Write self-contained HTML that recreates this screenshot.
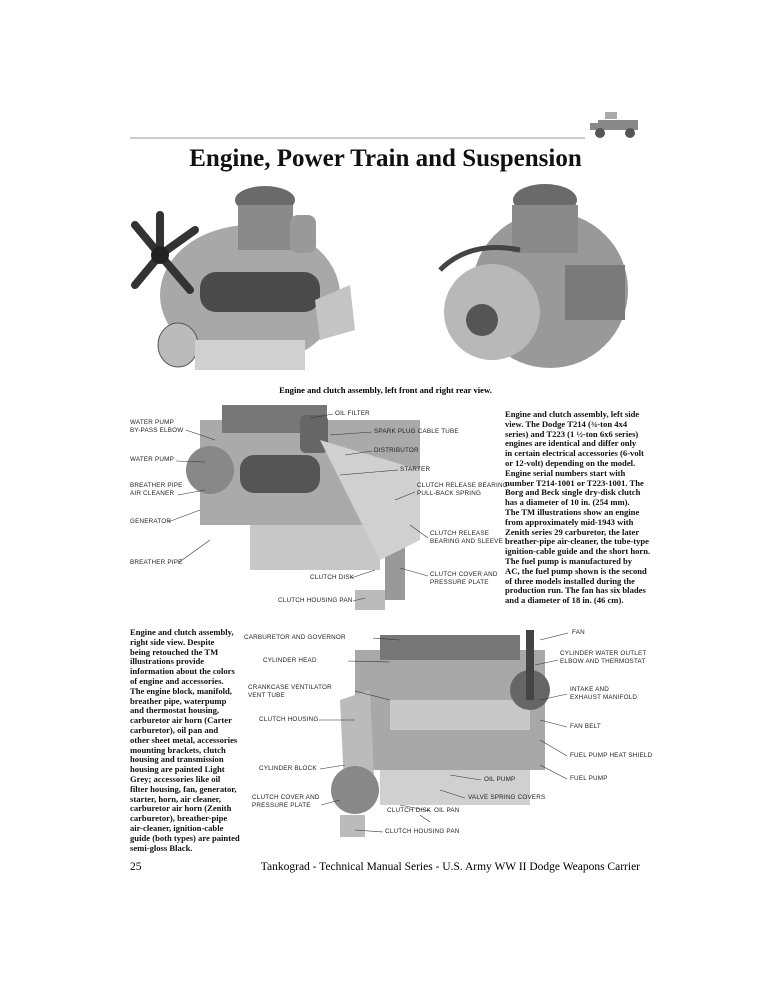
<!DOCTYPE html>
<html><head><meta charset="utf-8"><style>
body{margin:0;background:#fff;}
#p{position:relative;width:771px;height:1000px;overflow:hidden;background:#fff;font-family:"Liberation Serif",serif;}
.t{position:absolute;white-space:nowrap;}
.l{position:absolute;font-family:"Liberation Sans",sans-serif;font-size:6.3px;color:#222;white-space:nowrap;line-height:8px;letter-spacing:0.2px}
.b{position:absolute;font-weight:bold;font-size:8.6px;line-height:9.8px;color:#111;white-space:nowrap;}
svg{position:absolute;left:0;top:0;}
</style></head><body><div id="p">
<svg width="771" height="1000">
<line x1="130" y1="138" x2="585" y2="138" stroke="#999" stroke-width="1"/>
<g fill="#888"><rect x="598" y="120" width="40" height="10"/><rect x="590" y="123" width="12" height="7"/><circle cx="600" cy="133" r="5" fill="#555"/><circle cx="630" cy="133" r="5" fill="#555"/><rect x="605" y="112" width="12" height="7" fill="#aaa"/></g>
<!-- top left engine -->
<g>
<ellipse cx="250" cy="295" rx="90" ry="70" fill="#a8a8a8"/>
<rect x="200" y="272" width="120" height="40" rx="16" fill="#4a4a4a"/>
<ellipse cx="265" cy="200" rx="30" ry="14" fill="#6a6a6a"/>
<rect x="238" y="205" width="55" height="45" fill="#8a8a8a"/>
<g stroke="#333" stroke-width="8" stroke-linecap="round"><line x1="160" y1="255" x2="135" y2="225"/><line x1="160" y1="255" x2="195" y2="230"/><line x1="160" y1="255" x2="135" y2="285"/><line x1="160" y1="255" x2="190" y2="290"/><line x1="160" y1="255" x2="160" y2="215"/></g>
<circle cx="160" cy="255" r="9" fill="#222"/>
<ellipse cx="178" cy="345" rx="20" ry="22" fill="#bbb" stroke="#555"/>
<rect x="290" y="215" width="26" height="38" rx="8" fill="#999"/>
<path d="M315 300 L350 285 L355 330 L320 340Z" fill="#c4c4c4"/>
<rect x="195" y="340" width="110" height="30" fill="#d0d0d0"/>
</g>
<!-- top right engine -->
<g>
<ellipse cx="550" cy="290" rx="78" ry="78" fill="#999"/>
<ellipse cx="545" cy="200" rx="32" ry="16" fill="#6a6a6a"/>
<rect x="512" y="205" width="66" height="48" fill="#8a8a8a"/>
<circle cx="492" cy="312" r="48" fill="#b8b8b8"/>
<circle cx="482" cy="320" r="16" fill="#555"/>
<rect x="565" y="265" width="60" height="55" fill="#7a7a7a"/>
<path d="M440 270 Q470 240 520 250" stroke="#444" stroke-width="5" fill="none"/>
</g>
<!-- mid engine -->
<g>
<rect x="200" y="420" width="220" height="105" fill="#aaa"/>
<rect x="222" y="405" width="105" height="28" fill="#777"/>
<rect x="240" y="455" width="80" height="38" rx="14" fill="#555"/>
<rect x="300" y="415" width="28" height="38" rx="6" fill="#666"/>
<circle cx="210" cy="470" r="24" fill="#888"/>
<rect x="250" y="525" width="130" height="45" fill="#c8c8c8"/>
<rect x="385" y="540" width="20" height="60" fill="#999"/>
<rect x="355" y="590" width="30" height="20" fill="#bbb"/>
<path d="M320 440 L420 470 L420 540 L380 560Z" fill="#d0d0d0"/>
</g>
<!-- bottom engine -->
<g>
<rect x="355" y="650" width="190" height="120" fill="#a8a8a8"/>
<rect x="380" y="635" width="140" height="25" fill="#777"/>
<rect x="390" y="700" width="140" height="30" fill="#c8c8c8"/>
<circle cx="530" cy="690" r="20" fill="#666"/>
<rect x="526" y="630" width="8" height="70" fill="#444"/>
<path d="M340 700 L370 690 L375 800 L345 805Z" fill="#bbb"/>
<circle cx="355" cy="790" r="24" fill="#888"/>
<rect x="380" y="770" width="150" height="35" fill="#d0d0d0"/>
<rect x="340" y="815" width="25" height="22" fill="#bbb"/>
</g>
<g stroke="#333" stroke-width="0.6" fill="none">
<line x1="186" y1="430" x2="215" y2="440"/><line x1="176" y1="461" x2="205" y2="462"/><line x1="178" y1="495" x2="205" y2="490"/><line x1="168" y1="522" x2="200" y2="510"/><line x1="178" y1="563" x2="210" y2="540"/>
<line x1="333" y1="414" x2="310" y2="418"/><line x1="372" y1="432" x2="330" y2="435"/><line x1="372" y1="451" x2="345" y2="455"/><line x1="398" y1="470" x2="340" y2="475"/><line x1="415" y1="492" x2="395" y2="500"/><line x1="428" y1="538" x2="410" y2="525"/><line x1="428" y1="576" x2="400" y2="568"/><line x1="351" y1="578" x2="375" y2="570"/><line x1="353" y1="601" x2="365" y2="598"/>
<line x1="373" y1="638" x2="400" y2="640"/><line x1="348" y1="661" x2="390" y2="662"/><line x1="355" y1="691" x2="390" y2="700"/><line x1="319" y1="720" x2="355" y2="720"/><line x1="320" y1="769" x2="345" y2="765"/><line x1="321" y1="805" x2="340" y2="800"/><line x1="383" y1="832" x2="355" y2="830"/>
<line x1="568" y1="633" x2="540" y2="640"/><line x1="558" y1="660" x2="535" y2="665"/><line x1="567" y1="694" x2="540" y2="700"/><line x1="567" y1="727" x2="540" y2="720"/><line x1="567" y1="756" x2="540" y2="740"/><line x1="567" y1="779" x2="540" y2="765"/><line x1="481" y1="780" x2="450" y2="775"/><line x1="465" y1="798" x2="440" y2="790"/><line x1="430" y1="811" x2="400" y2="805"/><line x1="430" y1="822" x2="420" y2="815"/>
</g>
</svg>
<div class="t" style="left:0;width:771px;text-align:center;top:145px;font-size:25px;font-weight:bold;color:#111;">Engine, Power Train and Suspension</div>
<div class="t" style="left:0;width:771px;text-align:center;top:385px;font-size:8.6px;font-weight:bold;">Engine and clutch assembly, left front and right rear view.</div>

<div class="l" style="left:130px;top:419px">WATER PUMP<br>BY-PASS ELBOW</div>
<div class="l" style="left:130px;top:456px">WATER PUMP</div>
<div class="l" style="left:130px;top:482px">BREATHER PIPE<br>AIR CLEANER</div>
<div class="l" style="left:130px;top:518px">GENERATOR</div>
<div class="l" style="left:130px;top:559px">BREATHER PIPE</div>
<div class="l" style="left:335px;top:410px">OIL FILTER</div>
<div class="l" style="left:374px;top:428px">SPARK PLUG CABLE TUBE</div>
<div class="l" style="left:374px;top:447px">DISTRIBUTOR</div>
<div class="l" style="left:400px;top:466px">STARTER</div>
<div class="l" style="left:417px;top:482px">CLUTCH RELEASE BEARING<br>PULL-BACK SPRING</div>
<div class="l" style="left:430px;top:530px">CLUTCH RELEASE<br>BEARING AND SLEEVE</div>
<div class="l" style="left:430px;top:571px">CLUTCH COVER AND<br>PRESSURE PLATE</div>
<div class="l" style="left:310px;top:574px">CLUTCH DISK</div>
<div class="l" style="left:278px;top:597px">CLUTCH HOUSING PAN</div>

<div class="b" style="left:505px;top:410px">Engine and clutch assembly, left side<br>view. The Dodge T214 (¾-ton 4x4<br>series) and T223 (1 ½-ton 6x6 series)<br>engines are identical and differ only<br>in certain electrical accessories (6-volt<br>or 12-volt) depending on the model.<br>Engine serial numbers start with<br>number T214-1001 or T223-1001. The<br>Borg and Beck single dry-disk clutch<br>has a diameter of 10 in. (254 mm).<br>The TM illustrations show an engine<br>from approximately mid-1943 with<br>Zenith series 29 carburetor, the later<br>breather-pipe air-cleaner, the tube-type<br>ignition-cable guide and the short horn.<br>The fuel pump is manufactured by<br>AC, the fuel pump shown is the second<br>of three models installed during the<br>production run. The fan has six blades<br>and a diameter of 18 in. (46 cm).</div>

<div class="b" style="left:130px;top:628px">Engine and clutch assembly,<br>right side view. Despite<br>being retouched the TM<br>illustrations provide<br>information about the colors<br>of engine and accessories.<br>The engine block, manifold,<br>breather pipe, waterpump<br>and thermostat housing,<br>carburetor air horn (Carter<br>carburetor), oil pan and<br>other sheet metal, accessories<br>mounting brackets, clutch<br>housing and transmission<br>housing are painted Light<br>Grey; accessories like oil<br>filter housing, fan, generator,<br>starter, horn, air cleaner,<br>carburetor air horn (Zenith<br>carburetor), breather-pipe<br>air-cleaner, ignition-cable<br>guide (both types) are painted<br>semi-gloss Black.</div>

<div class="l" style="left:244px;top:634px">CARBURETOR AND GOVERNOR</div>
<div class="l" style="left:263px;top:657px">CYLINDER HEAD</div>
<div class="l" style="left:248px;top:684px">CRANKCASE VENTILATOR<br>VENT TUBE</div>
<div class="l" style="left:259px;top:716px">CLUTCH HOUSING</div>
<div class="l" style="left:259px;top:765px">CYLINDER BLOCK</div>
<div class="l" style="left:252px;top:794px">CLUTCH COVER AND<br>PRESSURE PLATE</div>
<div class="l" style="left:385px;top:828px">CLUTCH HOUSING PAN</div>
<div class="l" style="left:572px;top:629px">FAN</div>
<div class="l" style="left:560px;top:650px">CYLINDER WATER OUTLET<br>ELBOW AND THERMOSTAT</div>
<div class="l" style="left:570px;top:686px">INTAKE AND<br>EXHAUST MANIFOLD</div>
<div class="l" style="left:570px;top:723px">FAN BELT</div>
<div class="l" style="left:570px;top:752px">FUEL PUMP HEAT SHIELD</div>
<div class="l" style="left:570px;top:775px">FUEL PUMP</div>
<div class="l" style="left:484px;top:776px">OIL PUMP</div>
<div class="l" style="left:468px;top:794px">VALVE SPRING COVERS</div>
<div class="l" style="left:387px;top:807px">CLUTCH DISK</div>
<div class="l" style="left:434px;top:807px">OIL PAN</div>

<div class="t" style="left:130px;top:861px;font-size:11.5px;">25</div>
<div class="t" style="right:131px;top:861px;font-size:11.5px;">Tankograd - Technical Manual Series - U.S. Army WW II Dodge Weapons Carrier</div>
</div></body></html>
